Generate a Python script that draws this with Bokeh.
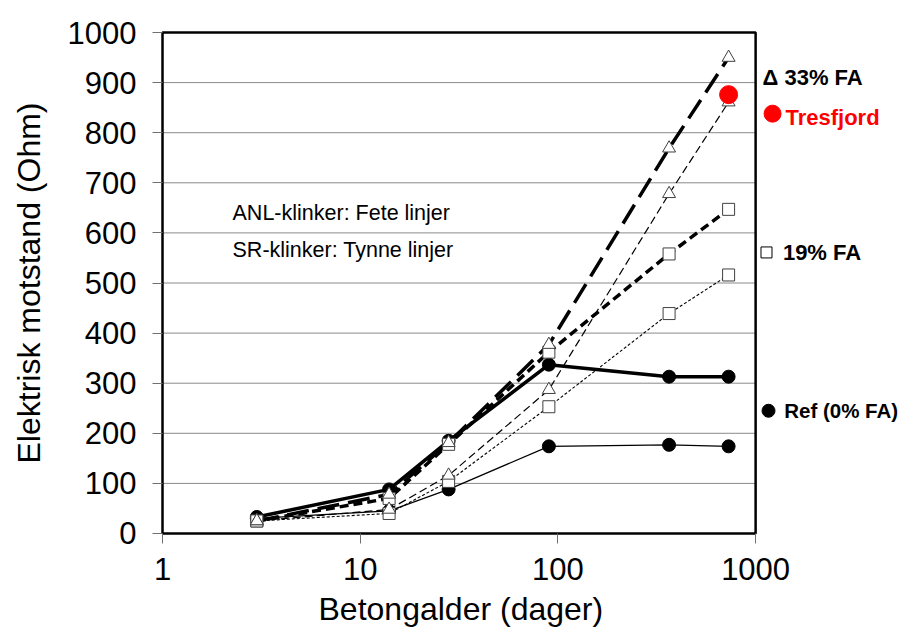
from bokeh.plotting import figure
from bokeh.models import Label, FixedTicker, PrintfTickFormatter, Range1d, Title
from bokeh.embed import file_html
from bokeh.resources import INLINE

# ---- data ----
ages = [3, 14, 28, 90, 365, 730]
anl_ref = [33, 88, 185, 337, 313, 313]
anl_fa19 = [25, 70, 178, 362, 558, 647]
anl_fa33 = [25, 78, 181, 377, 769, 950]
sr_ref = [30, 45, 88, 174, 177, 174]
sr_fa19 = [25, 40, 104, 253, 439, 516]
sr_fa33 = [25, 48, 116, 287, 678, 861]
tresfjord_age = [730]
tresfjord_val = [876]

x_ticks = [1, 10, 100, 1000]
y_ticks = [0, 100, 200, 300, 400, 500, 600, 700, 800, 900, 1000]
grid_vals = [100, 200, 300, 400, 500, 600, 700, 800, 900]
x_min, x_max = 1, 1000
y_min, y_max = 0, 1000

FONT = "Liberation Sans"

# frame extends to the right edge so that side labels are not clipped
p = figure(width=904, height=636, x_axis_type="log",
           x_range=Range1d(0.9656, 5663), y_range=Range1d(-6, 1006),
           output_backend="svg", toolbar_location=None,
           min_border_left=159, min_border_right=0,
           min_border_top=29, min_border_bottom=100)

p.outline_line_color = None
p.background_fill_color = "white"
p.border_fill_color = "white"
p.xgrid.grid_line_color = None
p.ygrid.grid_line_color = None

p.xaxis.ticker = FixedTicker(ticks=x_ticks)
p.xaxis.formatter = PrintfTickFormatter(format="%d")
p.yaxis.ticker = FixedTicker(ticks=y_ticks)

for ax in (p.xaxis[0], p.yaxis[0]):
    ax.axis_line_color = None
    ax.major_tick_line_color = "#707070"
    ax.major_tick_out = 7
    ax.major_tick_in = 3
    ax.minor_tick_line_color = None
    ax.major_label_text_font = FONT
    ax.major_label_text_font_size = "31px"
    ax.major_label_text_color = "black"
    ax.axis_label_text_font = FONT
    ax.axis_label_text_font_size = "32px"
    ax.axis_label_text_font_style = "normal"
    ax.axis_label_text_color = "black"

p.yaxis.axis_label = "Elektrisk motstand (Ohm)"
p.xaxis.major_label_standoff = 14
p.yaxis.major_label_standoff = 16
p.yaxis.axis_label_standoff = 18

# x-axis title placed as a left-aligned title under the axis (centred on the real plot box)
p.add_layout(Title(text="Betongalder (dager)", align="left", offset=159,
                   text_font=FONT, text_font_size="32px", text_font_style="normal",
                   text_color="black", standoff=12), "below")

# ---- horizontal grid lines ----
p.segment(x0=[x_min] * len(grid_vals), x1=[x_max] * len(grid_vals),
          y0=grid_vals, y1=grid_vals, line_color="#8a8a8a", line_width=1)

# ---- lines ----
p.line(ages, sr_ref, line_color="black", line_width=1.3)
p.line(ages, sr_fa19, line_color="black", line_width=1.1, line_dash="3 2")
p.line(ages, sr_fa33, line_color="black", line_width=1.2, line_dash="8 4")
p.line(ages, anl_ref, line_color="black", line_width=3.5)
p.line(ages, anl_fa19, line_color="black", line_width=3.5, line_dash="9 5")
p.line(ages, anl_fa33, line_color="black", line_width=3.5, line_dash="22 9")

# ---- markers ----
for vals in (sr_ref, anl_ref):
    p.scatter(ages, vals, marker="circle", size=13, fill_color="black", line_color="black")
for vals in (sr_fa19, anl_fa19):
    p.scatter(ages, vals, marker="square", size=12, fill_color="white", line_color="#404040", line_width=1)
for vals in (sr_fa33, anl_fa33):
    p.scatter(ages, vals, marker="triangle", size=13, fill_color="white", line_color="#404040", line_width=1)

p.scatter(tresfjord_age, tresfjord_val, marker="circle", size=18, fill_color="#ff0000", line_color="#ff0000")

# plot box
p.quad(left=[x_min], right=[x_max], bottom=[y_min], top=[y_max],
       fill_color=None, line_color="black", line_width=2.5)

# ---- texts inside ----
p.add_layout(Label(x=2.26, y=639, text="ANL-klinker: Fete linjer", text_font=FONT,
                   text_font_size="21.5px", text_color="black",
                   text_baseline="middle", text_align="left"))
p.add_layout(Label(x=2.26, y=565, text="SR-klinker: Tynne linjer", text_font=FONT,
                   text_font_size="21.5px", text_color="black",
                   text_baseline="middle", text_align="left"))

# ---- side legend ----
p.add_layout(Label(x=1084, y=910, text="Δ 33% FA", text_font=FONT, text_font_size="22px",
                   text_font_style="bold", text_color="black",
                   text_baseline="middle", text_align="left"))
p.scatter([1218], [838], marker="circle", size=17, fill_color="#ff0000", line_color="#ff0000")
p.add_layout(Label(x=1416, y=830, text="Tresfjord", text_font=FONT, text_font_size="22px",
                   text_font_style="bold", text_color="#ff0000",
                   text_baseline="middle", text_align="left"))
p.scatter([1135], [561], marker="square", size=11, fill_color="white", line_color="black", line_width=1)
p.add_layout(Label(x=1374, y=561, text="19% FA", text_font=FONT, text_font_size="22px",
                   text_font_style="bold", text_color="black",
                   text_baseline="middle", text_align="left"))
p.scatter([1162], [245], marker="circle", size=13, fill_color="black", line_color="black")
p.add_layout(Label(x=1395, y=245, text="Ref (0% FA)", text_font=FONT, text_font_size="20.5px",
                   text_font_style="bold", text_color="black",
                   text_baseline="middle", text_align="left"))

open("out.html", "w").write(file_html(p, INLINE))
